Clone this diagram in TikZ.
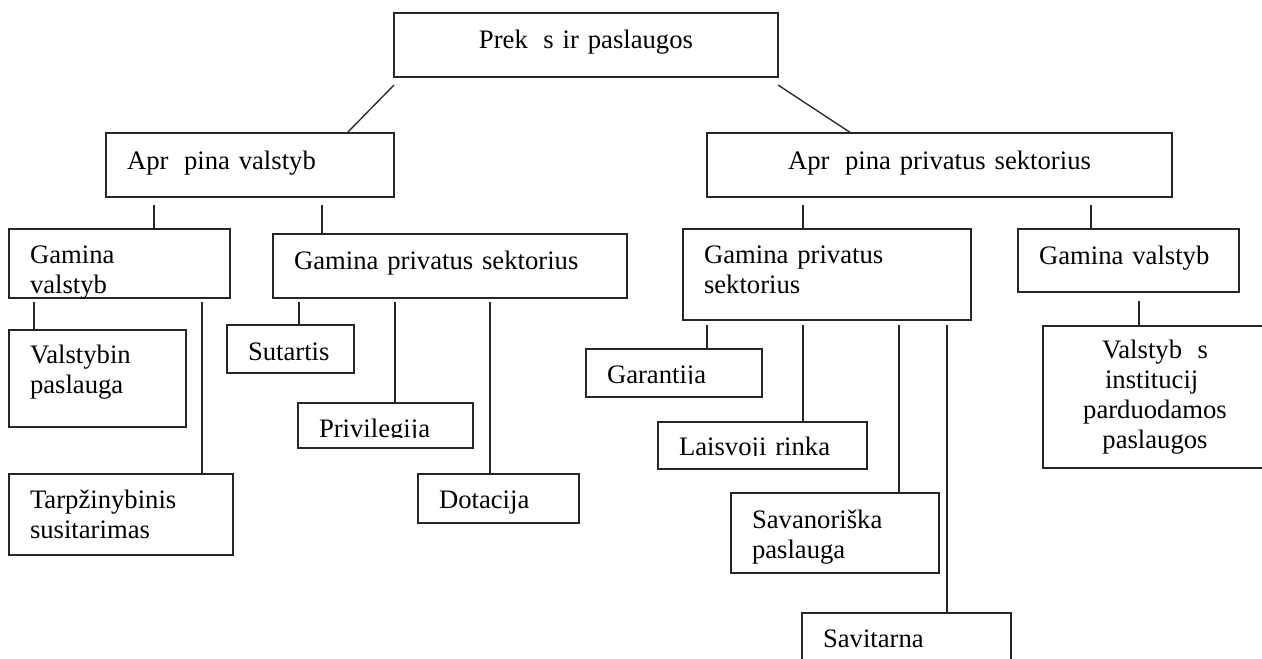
\documentclass[tikz,border=0pt]{standalone}
\usepackage{fontspec}
\setmainfont{Liberation Serif}
\usetikzlibrary{calc}
\newcommand{\miss}{\hspace*{0.25em}}

\begin{document}
\begin{tikzpicture}[x=0.45pt, y=-0.45pt, line width=0.6pt, black!85,
  box/.style n args={5}{draw, anchor=north west, outer sep=0pt,
    inner xsep=9.45pt, inner ysep=0pt, align=left, text=black,
    font=\fontsize{12}{13.5}\selectfont,
    at={(#1,#2)}, text width={(#3-#1)*0.45pt-18.9pt},
    text height={(#5-#2)*0.45pt}, text depth={(#4-#5)*0.45pt}}]
  \useasboundingbox (0,0) rectangle (1262,658);
  % box = left, top, right, bottom, first baseline
  \node[box={394}{13}{778}{77}{49}, align=center] (top) {Prek\miss{} s ir paslaugos};
  \node[box={106}{133}{394}{197}{170}] (a) {Apr\miss{} pina valstyb};
  \node[box={707}{133}{1172}{197}{170}, align=center] (b) {Apr\miss{} pina privatus sektorius};
  \node[box={9}{229}{230}{298}{263}] (a1) {Gamina\\valstyb};
  \node[box={273}{234}{627}{298}{269}] (a2) {Gamina privatus sektorius};
  \node[box={9}{330}{186}{427}{363}] (a11) {Valstybin\\paslauga};
  \node[box={9}{474}{233}{555}{508}] (a12) {Tarpžinybinis\\susitarimas};
  \node[box={227}{325}{354}{373}{360}] (a21) {Sutartis};
  \node[box={298}{403}{473}{448}{437}] (a22) {Privilegija};
  \node[box={418}{474}{579}{523}{508}] (a23) {Dotacija};
  \node[box={683}{229}{971}{320}{263}] (b1) {Gamina privatus\\sektorius};
  \node[box={1018}{229}{1239}{292}{264}] (b2) {Gamina valstyb};
  \node[box={586}{349}{762}{397}{383}] (b11) {Garantija};
  \node[box={658}{422}{867}{469}{455}] (b12) {Laisvoji rinka};
  \node[box={731}{493}{939}{573}{528}] (b13) {Savanoriška\\paslauga};
  \node[box={802}{613}{1011}{700}{647}] (b14) {Savitarna};
  \node[box={1043}{326}{1267}{468}{358}, align=center] (b21)
    {Valstyb\miss{} s\\institucij\miss\miss\\parduodamos\\paslaugos};
  % cut descenders
  \foreach \n/\h in {a22/10, b11/13, b12/13}
    \fill[white] ($(\n.south west)+(2,-2)$) rectangle ($(\n.south east)+(-2,-\h)$);
  \draw ($(top.south west)+(0,8)$) -- ($(a.north west)+(241,0)$);
  \draw ($(top.south east)+(0,8)$) -- ($(b.north west)+(144,0)$);
  \foreach \x/\p/\c/\g in {154/a/a1/8, 322/a/a2/8, 803/b/b1/8, 1091/b/b2/8,
      34/a1/a11/4, 202/a1/a12/4, 299/a2/a21/4, 395/a2/a22/4, 490/a2/a23/4,
      707/b1/b11/5, 803/b1/b12/5, 899/b1/b13/5, 947/b1/b14/5, 1139/b2/b21/9}
    \draw ($(\x,0 |- \p.south)+(0,\g)$) -- (\x,0 |- \c.north);
\end{tikzpicture}
\end{document}
